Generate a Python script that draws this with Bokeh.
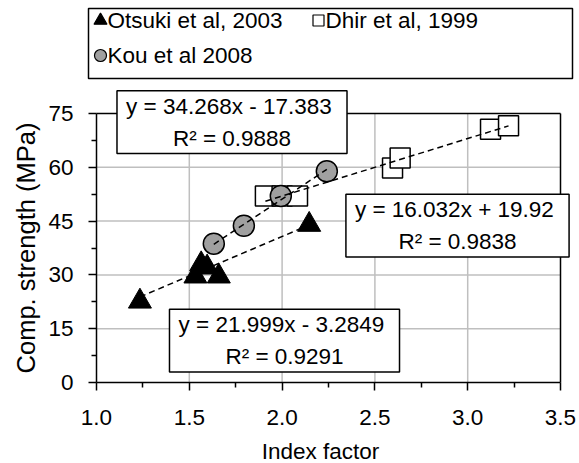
from bokeh.plotting import figure
from bokeh.models import Label, FixedTicker, Range1d, NumeralTickFormatter
from bokeh.embed import file_html
from bokeh.resources import INLINE

# ---- data ----
otsuki_x = [1.234, 1.533, 1.564, 1.596, 1.659, 2.146]
otsuki_y = [22.6, 29.6, 33.0, 32.1, 29.6, 44.0]
dhir_x = [1.91, 2.00, 2.083, 2.595, 2.636, 3.123, 3.22]
dhir_y = [52.0, 52.0, 52.0, 59.8, 62.6, 70.6, 71.6]
kou_x = [1.632, 1.794, 1.993, 2.241]
kou_y = [38.7, 43.7, 52.0, 58.9]

series_names = ["Otsuki et al, 2003", "Dhir et al, 1999", "Kou et al 2008"]
trend_slopes = [21.999, 16.032, 34.268]
trend_intercepts = [-3.2849, 19.92, -17.383]
trend_r2 = ["0.9291", "0.9838", "0.9888"]
trend_eq_text = ["y = 21.999x  - 3.2849", "y = 16.032x  + 19.92", "y = 34.268x  - 17.383"]

x_ticks = [1.0, 1.5, 2.0, 2.5, 3.0, 3.5]
y_ticks = [0, 15, 30, 45, 60, 75]
x_label = "Index factor"
y_label = "Comp. strength (MPa)"

FONT = "Liberation Sans"
FS = "22.5px"

W, H = 579, 463
# plot-area (axes box) in pixels
FL, FR, FT, FB = 96, 560, 113, 382
X0, X1 = x_ticks[0], x_ticks[-1]
Y0, Y1 = y_ticks[0], y_ticks[-1]

# The drawing frame covers the whole canvas; the axes are pinned at the
# plot-area edges, so legend / equation boxes sticking out are not clipped.
XL = X0 - (X1 - X0) * FL / (FR - FL)
XR = X1 + (X1 - X0) * (W - FR) / (FR - FL)
YB = Y0 - (Y1 - Y0) * (H - FB) / (FB - FT)
YT = Y1 + (Y1 - Y0) * FT / (FB - FT)


def dx(px):
    return X0 + (px - FL) / (FR - FL) * (X1 - X0)


def dy(py):
    return Y0 + (FB - py) / (FB - FT) * (Y1 - Y0)


p = figure(width=W, height=H, x_range=Range1d(XL, XR), y_range=Range1d(YB, YT),
           output_backend="svg", toolbar_location=None,
           min_border_left=0, min_border_right=0,
           min_border_top=0, min_border_bottom=0,
           background_fill_color="white", border_fill_color="white")
p.outline_line_color = None
p.grid.visible = False

x_minor = [(a + b) / 2 for a, b in zip(x_ticks[:-1], x_ticks[1:])]
y_minor = [(a + b) / 2 for a, b in zip(y_ticks[:-1], y_ticks[1:])]
p.xaxis.ticker = FixedTicker(ticks=x_ticks, minor_ticks=x_minor)
p.yaxis.ticker = FixedTicker(ticks=y_ticks, minor_ticks=y_minor)
p.xaxis.formatter = NumeralTickFormatter(format="0.0")
p.xaxis.bounds = (X0, X1)
p.yaxis.bounds = (Y0, Y1)
p.xaxis.fixed_location = Y0
p.yaxis.fixed_location = X0

for ax in (p.xaxis, p.yaxis):
    ax.axis_line_color = "black"
    ax.axis_line_width = 1.5
    ax.major_tick_line_color = "black"
    ax.major_tick_line_width = 1.5
    ax.minor_tick_line_color = "black"
    ax.minor_tick_line_width = 1.5
    ax.major_tick_out = 8
    ax.major_tick_in = 0
    ax.minor_tick_out = 5
    ax.minor_tick_in = 0
    ax.major_label_text_font = FONT
    ax.major_label_text_font_size = FS
    ax.major_label_text_color = "black"
p.xaxis.major_label_standoff = 19
p.yaxis.major_label_standoff = 15

# axis titles
p.add_layout(Label(x=dx(320), y=dy(451), text=x_label, text_align="center",
                   text_baseline="middle", text_font=FONT, text_font_size=FS,
                   text_color="black"))
p.add_layout(Label(x=dx(25), y=dy(247.5), text=y_label, text_align="center",
                   text_baseline="middle", angle=90, angle_units="deg",
                   text_font=FONT, text_font_size="25.5px", text_color="black"))

# gridlines and the plot-area border
inner_x = x_ticks[1:-1]
inner_y = y_ticks[1:-1]
p.segment(x0=inner_x, y0=[Y0] * len(inner_x), x1=inner_x, y1=[Y1] * len(inner_x),
          line_color="#BFBFBF", line_width=1.5)
p.segment(x0=[X0] * len(inner_y), y0=inner_y, x1=[X1] * len(inner_y), y1=inner_y,
          line_color="#BFBFBF", line_width=1.5)
p.segment(x0=[X0, X1], y0=[Y1, Y0], x1=[X1, X1], y1=[Y1, Y1],
          line_color="black", line_width=1.5)

# ---- markers ----
p.scatter(otsuki_x, otsuki_y, marker="triangle", size=23,
          fill_color="black", line_color="black", line_width=1)
p.scatter(dhir_x, dhir_y, marker="square", size=20,
          fill_color="white", line_color="black", line_width=1.5)
p.scatter(kou_x, kou_y, marker="circle", size=21,
          fill_color="#A0A0A0", line_color="black", line_width=1.5)

# ---- linear trend lines ----
for xs, m, b in zip([otsuki_x, dhir_x, kou_x], trend_slopes, trend_intercepts):
    xa, xb = min(xs), max(xs)
    p.line([xa, xb], [m * xa + b, m * xb + b], line_color="black",
           line_width=1.5, line_dash="6 4")

# ---- equation boxes (Otsuki, Dhir, Kou) ----
box_centers_px = [(284, 340), (457, 225), (231.5, 121.7)]
for (cx, cy), eq, r in zip(box_centers_px, trend_eq_text, trend_r2):
    p.add_layout(Label(x=dx(cx), y=dy(cy), text=eq + "\nR\u00b2 = " + r,
                       text_align="center", text_baseline="middle",
                       text_font=FONT, text_font_size=FS, text_color="black",
                       text_line_height=1.27,
                       background_fill_color="white",
                       border_line_color="black", border_line_width=1.5,
                       padding=dict(left=9, right=9, top=3, bottom=3)))

# ---- legend ----
p.quad(left=[dx(88)], right=[dx(572)], top=[dy(8)], bottom=[dy(78)],
       fill_color="white", line_color="black", line_width=1.5)

legend_rows_px = [(100, 20), (318, 20), (100, 55)]
legend_markers = ["triangle", "square", "circle"]
legend_fills = ["black", "white", "#A0A0A0"]
legend_sizes = [13, 11, 12]
for (mx, my), name, mk, fc, sz in zip(legend_rows_px, series_names, legend_markers,
                                      legend_fills, legend_sizes):
    p.scatter([dx(mx)], [dy(my)], marker=mk, size=sz, fill_color=fc,
              line_color="black", line_width=1.2)
    p.add_layout(Label(x=dx(mx + 7), y=dy(my), text=name, text_align="left",
                       text_baseline="middle", text_font=FONT,
                       text_font_size=FS, text_color="black"))

open("out.html", "w").write(file_html(p, INLINE))
